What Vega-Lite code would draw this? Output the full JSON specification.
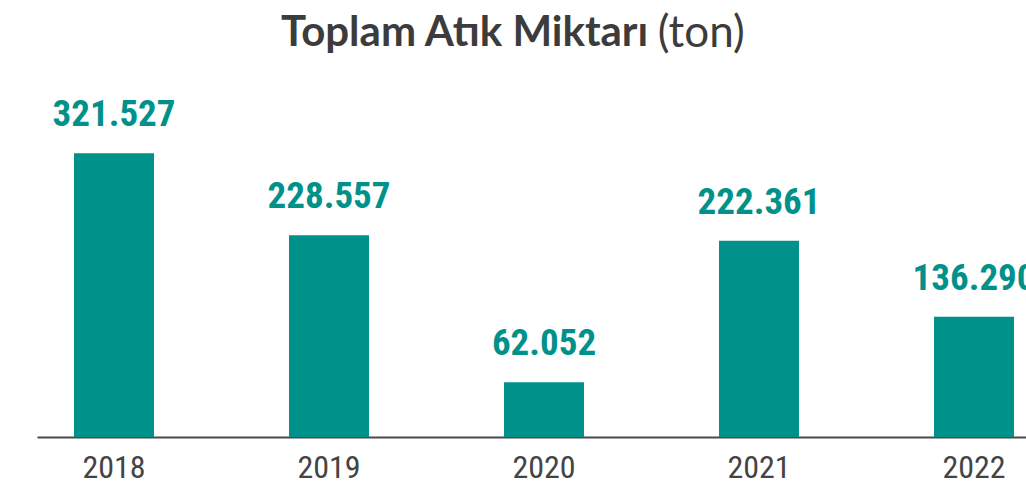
{
  "$schema": "https://vega.github.io/schema/vega-lite/v6.json",
  "autosize": {"type": "none"},
  "padding": {"left": 37, "top": 128, "right": 0, "bottom": 47},
  "width": 989,
  "height": 309,
  "background": "white",
  "config": {
    "view": {"stroke": null},
    "locale": {"number": {"decimal": ",", "thousands": ".", "grouping": [3], "currency": ["", ""]}}
  },
  "title": {
    "text": "Toplam Atık Miktarı",
    "subtitle": "\u200b\u2003\u2003\u2003\u2003\u2003\u2003\u2003\u2003\u00a0\u00a0\u00a0\u00a0\u00a0\u00a0\u00a0\u00a0\u00a0\u00a0(ton)",
    "frame": "group",
    "anchor": "start",
    "dx": 244,
    "offset": 39,
    "font": "Lato",
    "fontSize": 42,
    "fontWeight": "bold",
    "color": "#3c3c3c",
    "subtitleFont": "Lato",
    "subtitleFontSize": 44,
    "subtitleFontWeight": "normal",
    "subtitleColor": "#3c3c3c",
    "subtitlePadding": -43
  },
  "data": {
    "values": [
      {"year": "2018", "ton": 321527},
      {"year": "2019", "ton": 228557},
      {"year": "2020", "ton": 62052},
      {"year": "2021", "ton": 222361},
      {"year": "2022", "ton": 136290}
    ]
  },
  "encoding": {
    "x": {
      "field": "year",
      "type": "ordinal",
      "scale": {"paddingInner": 0.628, "paddingOuter": 0.114, "align": 0.755},
      "axis": {
        "title": null,
        "labelAngle": 0,
        "ticks": false,
        "domainColor": "#4a4a4a",
        "domainWidth": 2,
        "labelFont": "Roboto Condensed, Roboto, sans-serif",
        "labelFontSize": 32,
        "labelColor": "#444444",
        "labelPadding": 15,
        "zindex": 0
      }
    },
    "y": {
      "field": "ton",
      "type": "quantitative",
      "scale": {"domain": [0, 350000]},
      "axis": null
    }
  },
  "layer": [
    {"mark": {"type": "bar", "color": "#00918a"}},
    {
      "mark": {
        "type": "text",
        "baseline": "alphabetic",
        "dy": -27,
        "font": "Roboto Condensed, Roboto, sans-serif",
        "fontSize": 37,
        "fontWeight": "bold",
        "color": "#00918a"
      },
      "encoding": {"text": {"field": "ton", "type": "quantitative", "format": ",d"}}
    }
  ]
}
